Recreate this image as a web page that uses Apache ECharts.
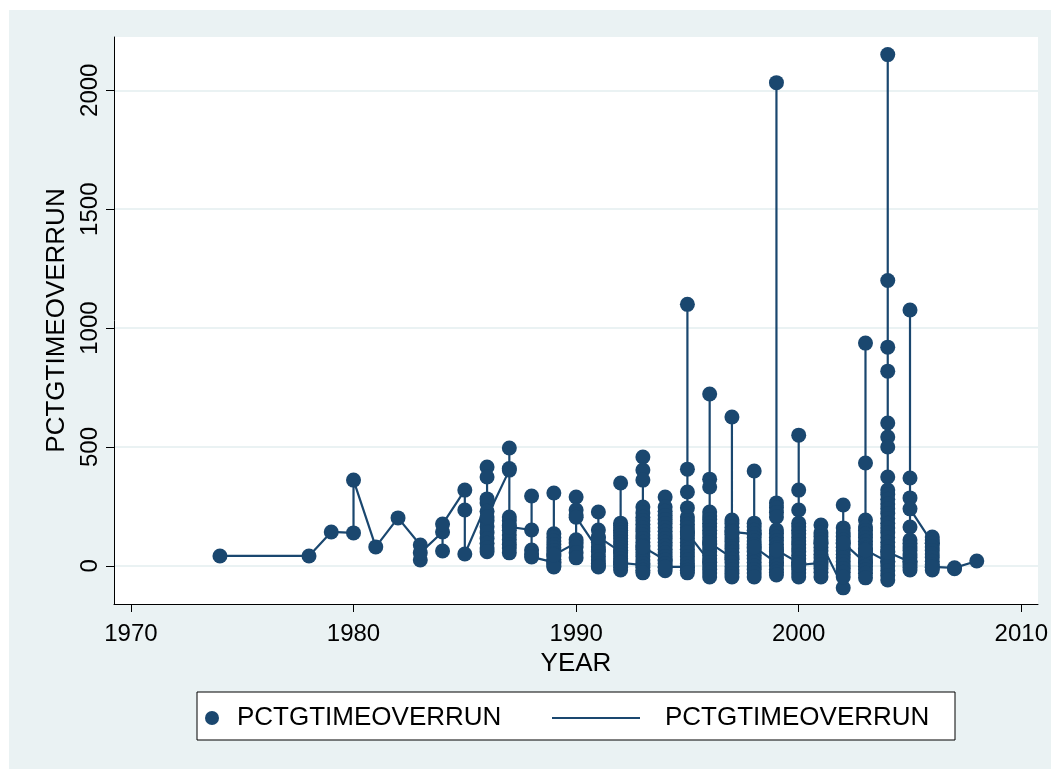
<!DOCTYPE html>
<html>
<head>
<meta charset="utf-8">
<script src="https://cdn.jsdelivr.net/npm/echarts@6/dist/echarts.min.js"></script>
<style>
  html, body { margin: 0; padding: 0; background: #fff; }
  #main { position: absolute; left: 9px; top: 10px; width: 1042px; height: 759px; }
</style>
</head>
<body>
<div id="main"></div>
<script>
// PCTGTIMEOVERRUN by YEAR, observations in file order (the line joins them in this order)
var years = [1974, 1978, 1979, 1980, 1981, 1982, 1983, 1984, 1985, 1986, 1987, 1988,
  1989, 1990, 1991, 1992, 1993, 1994, 1995, 1996, 1997, 1998, 1999, 2000, 2001,
  2002, 2003, 2004, 2005, 2006, 2007, 2008];

var v1974 = [42];
var v1978 = [42];
var v1979 = [143];
var v1980 = [139, 361];
var v1981 = [80];
var v1982 = [202];
var v1983 = [88, 25, 55];
var v1984 = [143, 63, 176];
var v1985 = [319, 235, 50];
var v1986 = [265, 416, 374, 282, 230, 190, 165, 140, 115, 95, 75, 60, 206];
var v1987 = [403, 496, 410, 206, 190, 170, 150, 130, 110, 90, 75, 55, 164];
var v1988 = [151, 294, 67, 50, 38];
var v1989 = [15, 307, 135, 120, 105, 90, 78, 65, 52, 40, 28, 18, 8, 0, -4, 46];
var v1990 = [97, 290, 110, 80, 55, 34, 235, 214, 205];
var v1991 = [67, 227, 151, 120, 100, 80, 60, 40, 25, 10, 0, -4, 122];
var v1992 = [59, 349, 180, 170, 160, 150, 140, 128, 115, 102, 90, 78, 66, 54, 42, 30, 18, 6, -5, -17, 13];
var v1993 = [4, 458, 403, 361, 248, 223, 205, 190, 175, 160, 145, 130, 115, 100, 85, 70, 55, 40, 25, 10, -5, -18, -29, 80];
var v1994 = [25, 290, 248, 230, 212, 195, 178, 162, 146, 130, 115, 100, 85, 70, 55, 40, 25, 10, -5, -20, -4];
var v1995 = [-4, 1100, 407, 311, 244, 206, 190, 175, 160, 145, 130, 115, 100, 85, 70, 55, 40, 25, 10, -5, -18, -29, 139];
var v1996 = [17, 723, 365, 332, 227, 210, 195, 180, 165, 150, 135, 120, 105, 90, 75, 60, 45, 30, 15, 0, -15, -30, -46, 97];
var v1997 = [34, 626, 193, 178, 163, 148, 133, 118, 103, 88, 73, 58, 43, 28, 13, -2, -17, -32, -46, 143];
var v1998 = [134, 399, 180, 165, 150, 135, 120, 105, 90, 75, 60, 45, 30, 15, 0, -15, -30, -46, 80];
var v1999 = [13, 2032, 265, 245, 225, 206, 151, 136, 121, 106, 91, 76, 61, 46, 31, 16, 1, -14, -26, -38, 67];
var v2000 = [13, 550, 319, 235, 180, 165, 150, 135, 120, 105, 90, 75, 60, 45, 30, 15, 0, -15, -30, -46, 4];
var v2001 = [13, 172, 139, 124, 109, 94, 79, 64, 49, 34, 19, 4, -11, -26, -46, 97];
var v2002 = [-92, 256, 160, 139, 124, 109, 94, 79, 64, 49, 34, 19, 4, -11, -26, -46, 97];
var v2003 = [13, 937, 433, 193, 164, 149, 134, 119, 104, 89, 74, 59, 44, 29, 14, -1, -16, -31, -50, 67];
var v2004 = [17, 2150, 1200, 920, 819, 601, 542, 500, 374, 319, 300, 280, 260, 240, 220, 200, 180, 160, 140, 120, 100, 80, 60, 40, 20, 0, -20, -40, -59, 59];
var v2005 = [17, 1076, 370, 286, 164, 109, 95, 80, 65, 50, 35, 20, 5, -5, -17, 240];
var v2006 = [97, 122, 109, 95, 80, 65, 50, 35, 20, 5, -5, -17, -4];
var v2007 = [-8, -12];
var v2008 = [21];

var valuesByYear = [v1974, v1978, v1979, v1980, v1981, v1982, v1983, v1984, v1985, v1986,
  v1987, v1988, v1989, v1990, v1991, v1992, v1993, v1994, v1995, v1996, v1997, v1998,
  v1999, v2000, v2001, v2002, v2003, v2004, v2005, v2006, v2007, v2008];

var xTicks = [1970, 1980, 1990, 2000, 2010];
var yTicks = [0, 500, 1000, 1500, 2000];

var points = [];
for (var i = 0; i < years.length; i++) {
  for (var j = 0; j < valuesByYear[i].length; j++) {
    points.push([years[i], valuesByYear[i][j]]);
  }
}

var navy = '#1a476f';
var bgBlue = '#eaf2f3';
var font = 'Liberation Sans, Arial, sans-serif';
var plain = function (v) { return String(v); };

var chart = echarts.init(document.getElementById('main'));
chart.setOption({
  animation: false,
  backgroundColor: bgBlue,
  textStyle: { fontFamily: font },
  grid: {
    left: 105, right: 13, top: 27, bottom: 165,
    show: true, backgroundColor: '#fff', borderWidth: 0
  },
  xAxis: {
    type: 'value',
    min: 1969.24, max: 2010.75,
    name: 'YEAR', nameLocation: 'middle', nameGap: 47,
    nameTextStyle: { color: '#000', fontSize: 26, fontFamily: font },
    axisLine: { show: true, onZero: false, lineStyle: { color: '#000', width: 1 } },
    axisTick: { show: true, length: 8, lineStyle: { color: '#000' }, customValues: xTicks },
    axisLabel: { color: '#000', fontSize: 24, margin: 18, customValues: xTicks, formatter: plain },
    splitLine: { show: false }
  },
  yAxis: {
    type: 'value',
    min: -160, max: 2224,
    name: 'PCTGTIMEOVERRUN', nameLocation: 'middle', nameGap: 44, nameRotate: 90,
    nameTextStyle: { color: '#000', fontSize: 26, fontFamily: font },
    axisLine: { show: true, onZero: false, lineStyle: { color: '#000', width: 1 } },
    axisTick: { show: true, length: 8, lineStyle: { color: '#000' }, customValues: yTicks },
    axisLabel: { color: '#000', fontSize: 24, margin: 12, rotate: 90, customValues: yTicks, formatter: plain },
    splitLine: { show: true, lineStyle: { color: bgBlue, width: 2 } }
  },
  graphic: [{
    type: 'rect', z: 1,
    shape: { x: 188, y: 682, width: 758, height: 48 },
    style: { fill: '#fff', stroke: '#000', lineWidth: 1 }
  }],
  legend: [{
    data: ['obs'], left: 196, top: 695, padding: 0,
    itemWidth: 14, itemHeight: 14, icon: 'circle',
    formatter: function () { return 'PCTGTIMEOVERRUN'; },
    textStyle: { color: '#000', fontSize: 26, fontFamily: font, padding: [0, 0, 0, 13] }
  }, {
    data: [{ name: 'path', icon: 'rect' }], left: 543, top: 695, padding: 0,
    itemWidth: 88, itemHeight: 2,
    formatter: function () { return 'PCTGTIMEOVERRUN'; },
    textStyle: { color: '#000', fontSize: 26, fontFamily: font, padding: [0, 0, 0, 20] }
  }],
  series: [{
    name: 'path',
    type: 'line',
    data: points,
    showSymbol: false,
    symbol: 'none',
    lineStyle: { color: navy, width: 2.2 },
    itemStyle: { color: navy },
    z: 2
  }, {
    name: 'obs',
    type: 'scatter',
    data: points,
    symbolSize: 15,
    itemStyle: { color: navy, opacity: 1 },
    z: 3
  }]
});
</script>
</body>
</html>
